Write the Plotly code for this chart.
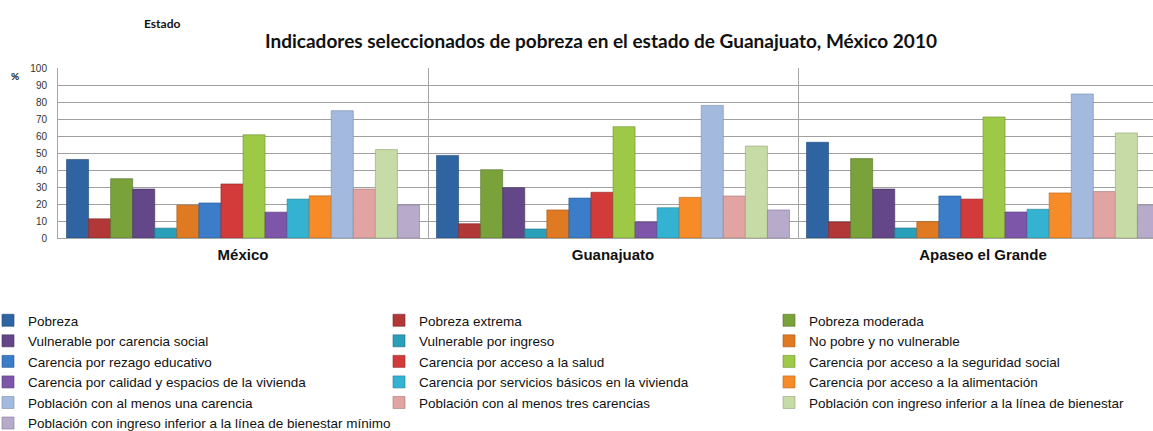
import plotly.graph_objects as go

categories = ["México", "Guanajuato", "Apaseo el Grande"]

series_names = [
    "Pobreza",
    "Pobreza extrema",
    "Pobreza moderada",
    "Vulnerable por carencia social",
    "Vulnerable por ingreso",
    "No pobre y no vulnerable",
    "Carencia por rezago educativo",
    "Carencia por acceso a la salud",
    "Carencia por acceso a la seguridad social",
    "Carencia por calidad y espacios de la vivienda",
    "Carencia por servicios básicos en la vivienda",
    "Carencia por acceso a la alimentación",
    "Población con al menos una carencia",
    "Población con al menos tres carencias",
    "Población con ingreso inferior a la línea de bienestar",
    "Población con ingreso inferior a la línea de bienestar mínimo",
]

mexico = [46.2, 11.3, 34.9, 28.8, 5.8, 19.3, 20.6, 31.8, 60.7, 15.2, 22.9, 24.8, 74.9, 28.8, 52.0, 19.4]
guanajuato = [48.6, 8.4, 40.2, 29.6, 5.3, 16.5, 23.5, 26.9, 65.5, 9.4, 17.8, 23.9, 78.0, 24.7, 54.1, 16.5]
apaseo = [56.3, 9.4, 46.7, 28.8, 5.9, 9.6, 24.7, 22.9, 71.2, 15.3, 16.9, 26.5, 84.7, 27.3, 61.8, 19.2]

colors = [
    "#2f64a3", "#b23838", "#7aa23a", "#634788", "#2a9fba", "#e07a22",
    "#3b7dc8", "#d33b3b", "#9dc947", "#7d56a9", "#33b3d1", "#f78b28",
    "#a3b9de", "#e2a4a3", "#c6dba5", "#b8aacb",
]
edge_colors = [
    "#1f4677", "#7e2424", "#54722a", "#45305f", "#1c7287", "#a55817",
    "#28598f", "#962828", "#6f9131", "#583b78", "#238095", "#b66419",
    "#7589ab", "#a87574", "#90a577", "#85799a",
]

W, H = 1153, 431
ml, mr, mt, mb = 58, 0, 68, 193
pw = W - ml - mr
ph = H - mt - mb

def px_x(px):
    return (px - ml) / pw

def px_y(py):
    return (H - mb - py) / ph

legend_ids = ["legend", "legend2", "legend3"]

fig = go.Figure()
for i, name in enumerate(series_names):
    fig.add_trace(go.Bar(
        name=name,
        x=categories,
        y=[mexico[i], guanajuato[i], apaseo[i]],
        marker=dict(color=colors[i], line=dict(color=edge_colors[i], width=0.6)),
        legend=legend_ids[i % 3],
    ))

legend_font = dict(family="Liberation Sans, Arial", size=13.5, color="#111")
legend_cols_px = [-12, 379, 769]
legend_top_px = 305

def legend_cfg(xpx):
    return dict(
        orientation="v",
        x=px_x(xpx), xanchor="left",
        y=px_y(legend_top_px), yanchor="top",
        font=legend_font,
        traceorder="normal",
        itemwidth=30,
        bgcolor="rgba(0,0,0,0)",
        tracegroupgap=0,
    )

fig.update_layout(
    width=W, height=H,
    margin=dict(l=ml, r=mr, t=mt, b=mb, pad=0, autoexpand=False),
    barmode="group",
    bargap=0.046,
    bargroupgap=0,
    plot_bgcolor="white",
    paper_bgcolor="white",
    font=dict(family="Liberation Sans, Arial", color="#222"),
    showlegend=True,
    legend=legend_cfg(legend_cols_px[0]),
    legend2=legend_cfg(legend_cols_px[1]),
    legend3=legend_cfg(legend_cols_px[2]),
    xaxis=dict(
        type="category",
        range=[-0.5, -0.5 + pw / 370.0],
        tickson="boundaries",
        showgrid=True, gridcolor="#a6a6a6", gridwidth=1,
        ticks="",
        tickfont=dict(family="Liberation Sans, Arial", size=15, color="#111", weight="bold"),
        ticklabelstandoff=3,
        showline=True, linecolor="#a6a6a6", linewidth=1,
    ),
    yaxis=dict(
        range=[0, 100], dtick=10,
        showgrid=True, gridcolor="#a0a0a0", gridwidth=1,
        zeroline=False,
        showline=True, linecolor="#a6a6a6", linewidth=1,
        ticks="",
        ticklabelstandoff=8,
        tickfont=dict(family="Liberation Sans, Arial", size=10, color="#333"),
    ),
    annotations=[
        dict(text="<b>Indicadores seleccionados de pobreza en el estado de Guanajuato, México 2010</b>",
             xref="paper", yref="paper", x=px_x(601), y=px_y(41), xanchor="center", yanchor="middle",
             showarrow=False, font=dict(family="Lato", size=19, color="#111")),
        dict(text="<b>Estado</b>", xref="paper", yref="paper", x=px_x(162), y=px_y(23),
             xanchor="center", yanchor="middle", showarrow=False,
             font=dict(family="Lato", size=12, color="#111")),
        dict(text="<b>%</b>", xref="paper", yref="paper", x=px_x(15), y=px_y(76),
             xanchor="center", yanchor="middle", showarrow=False,
             font=dict(family="Lato", size=10, color="#111")),
    ],
)

fig.write_html(
    "out.html",
    config={"displayModeBar": False},
    post_script="document.body.style.margin='0px';document.body.style.overflow='hidden';",
)
